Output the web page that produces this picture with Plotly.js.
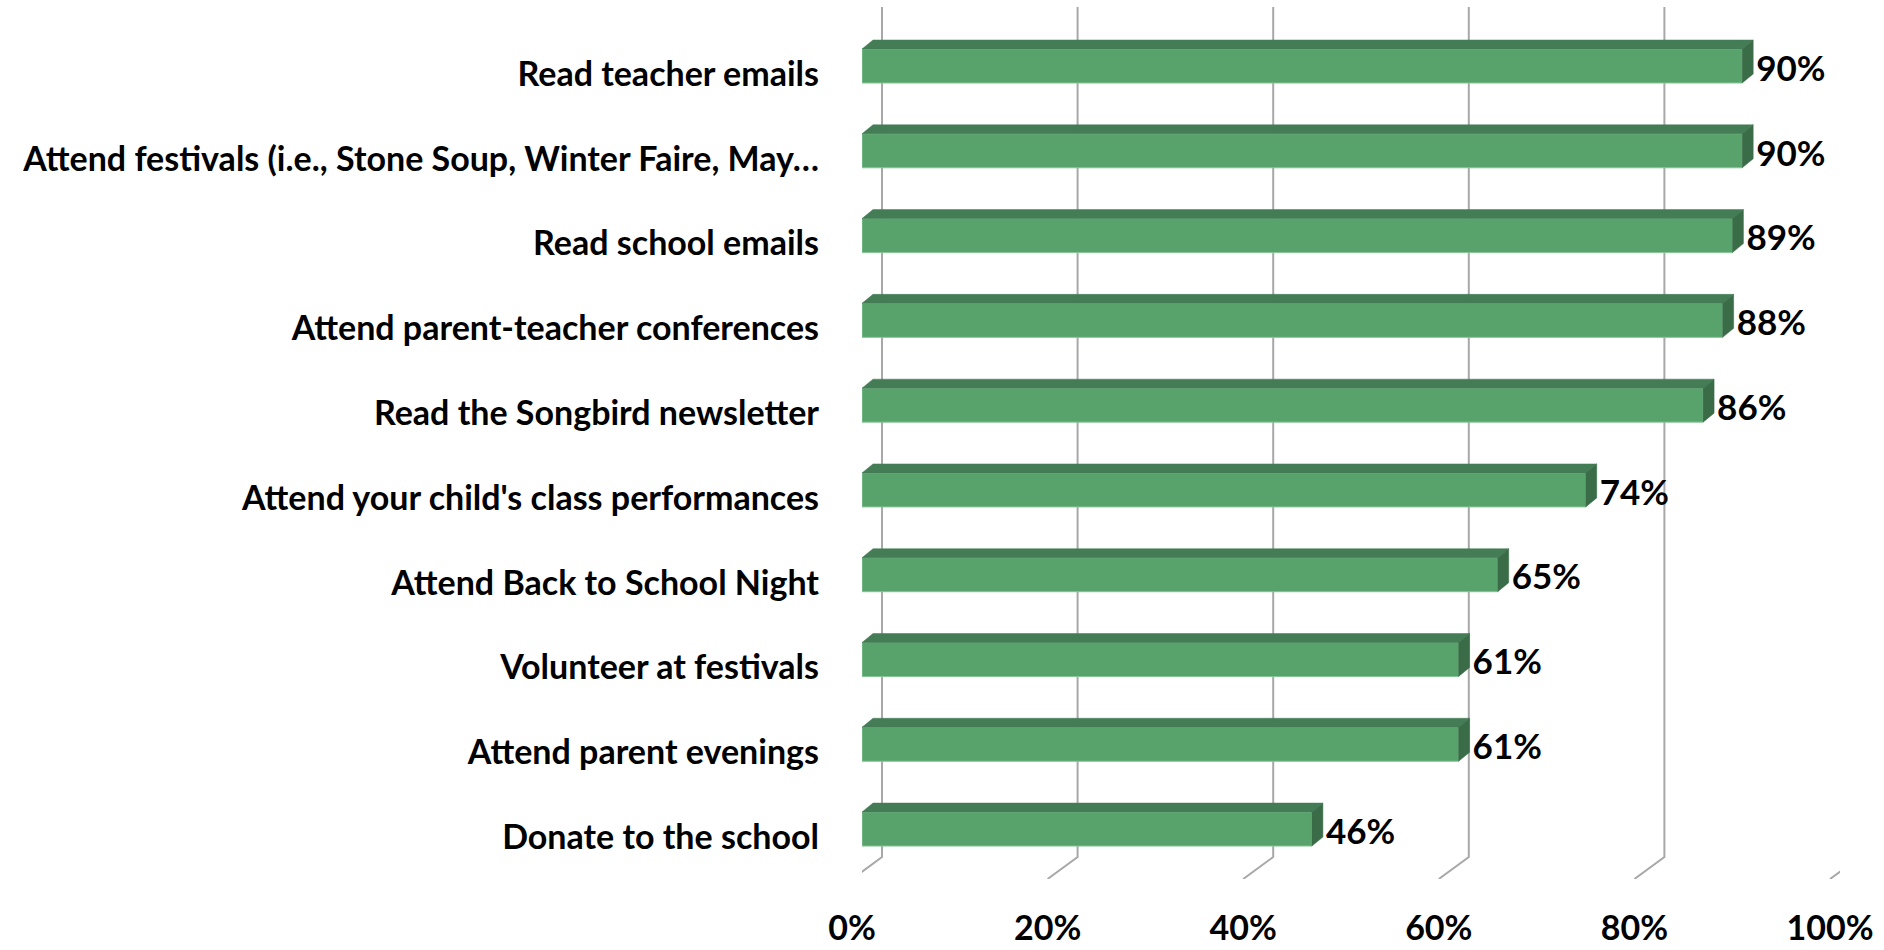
<!DOCTYPE html>
<html>
<head>
<meta charset="utf-8">
<script src="https://cdn.plot.ly/plotly-3.0.1.min.js"></script>
<style>
html,body{margin:0;padding:0;background:#fff;}
#chart{width:1884px;height:950px;}
</style>
</head>
<body>
<div id="chart"></div>
<script>
// ---- data ----
var categories = [
  "Read teacher emails",
  "Attend festivals (i.e., Stone Soup, Winter Faire, May\u2026",
  "Read school emails",
  "Attend parent-teacher conferences",
  "Read the Songbird newsletter",
  "Attend your child's class performances",
  "Attend Back to School Night",
  "Volunteer at festivals",
  "Attend parent evenings",
  "Donate to the school"
];
var values = [0.90, 0.90, 0.89, 0.88, 0.86, 0.74, 0.65, 0.61, 0.61, 0.46];
var valueLabels = ["90%", "90%", "89%", "88%", "86%", "74%", "65%", "61%", "61%", "46%"];
var xTickVals = [0, 0.2, 0.4, 0.6, 0.8, 1.0];
var xTickText = ["0%", "20%", "40%", "60%", "80%", "100%"];

// ---- geometry (pixels -> data units) ----
var W = 1884, H = 950;
var mL = 862, mR = 44, mT = 7, mB = 71;
var plotW = W - mL - mR, plotH = H - mT - mB;
var xRange = [0, 1];
var yRange = [9.589, -0.696];
var pxX = plotW / (xRange[1] - xRange[0]);
var pxY = plotH / (yRange[0] - yRange[1]);
var barW = 34 / pxY;
var dX = 11 / pxX, dY = 9 / pxY;       // bar depth
var backX = 20 / pxX, floorX = -10 / pxX; // gridline wall/floor offsets
var yIdx = categories.map(function (c, i) { return i; });

var FONT = "Lato, Carlito, Calibri, 'DejaVu Sans', sans-serif";

// top & side faces
var topX = [], topY = [], sideX = [], sideY = [];
values.forEach(function (v, i) {
  var yt = i - barW / 2, yb = i + barW / 2;
  topX.push(0, v, v + dX, dX, 0, null);
  topY.push(yt, yt, yt - dY, yt - dY, yt, null);
  sideX.push(v, v + dX, v + dX, v, v, null);
  sideY.push(yt, yt - dY, yb - dY, yb, yt, null);
});

var traces = [
  {
    type: "bar", orientation: "h", x: values, y: yIdx, width: barW,
    marker: { color: "#57a36b", line: { color: "#86c596", width: 1 } },
    hoverinfo: "skip"
  },
  {
    type: "scatter", mode: "lines", x: topX, y: topY, fill: "toself",
    fillcolor: "#437c55", line: { width: 0.5, color: "#437c55" }, hoverinfo: "skip"
  },
  {
    type: "scatter", mode: "lines", x: sideX, y: sideY, fill: "toself",
    fillcolor: "#3b6c48", line: { width: 0.5, color: "#3b6c48" }, hoverinfo: "skip"
  },
  {
    type: "scatter", mode: "text",
    x: values.map(function (v) { return v + dX + 3 / pxX; }),
    y: yIdx.map(function (i) { return i + 6 / pxY; }),
    text: valueLabels, textposition: "middle right",
    textfont: { family: FONT, size: 35, color: "#000", weight: 700 },
    cliponaxis: false, hoverinfo: "skip"
  }
];

// gridlines: back wall vertical + floor diagonal
var shapes = [];
var floorBackY = (857 - mT) / pxY + yRange[1];
xTickVals.forEach(function (v) {
  shapes.push({
    type: "path", xref: "x", yref: "y", layer: "below",
    path: "M" + (v + backX) + "," + yRange[1] + " L" + (v + backX) + "," + floorBackY +
          " L" + (v + floorX) + "," + yRange[0],
    line: { color: "#a8a8a8", width: 2 }
  });
});

var layout = {
  width: W, height: H,
  margin: { l: mL, r: mR, t: mT, b: mB, pad: 0 },
  paper_bgcolor: "#ffffff", plot_bgcolor: "rgba(0,0,0,0)",
  showlegend: false,
  xaxis: {
    range: xRange, showgrid: false, zeroline: false, showline: false,
    tickvals: xTickVals, ticktext: xTickText, ticks: "",
    ticklabelstandoff: 26, ticklabelshift: -10,
    tickfont: { family: FONT, size: 34, color: "#000", weight: 700 }
  },
  yaxis: {
    range: yRange, showgrid: false, zeroline: false, showline: false,
    tickvals: yIdx, ticktext: categories, ticks: "",
    ticklabelstandoff: 42, ticklabelshift: -8,
    tickfont: { family: FONT, size: 34, color: "#000", weight: 700 }
  },
  shapes: shapes
};

Plotly.newPlot("chart", traces, layout, { displayModeBar: false, staticPlot: true });
</script>
</body>
</html>
